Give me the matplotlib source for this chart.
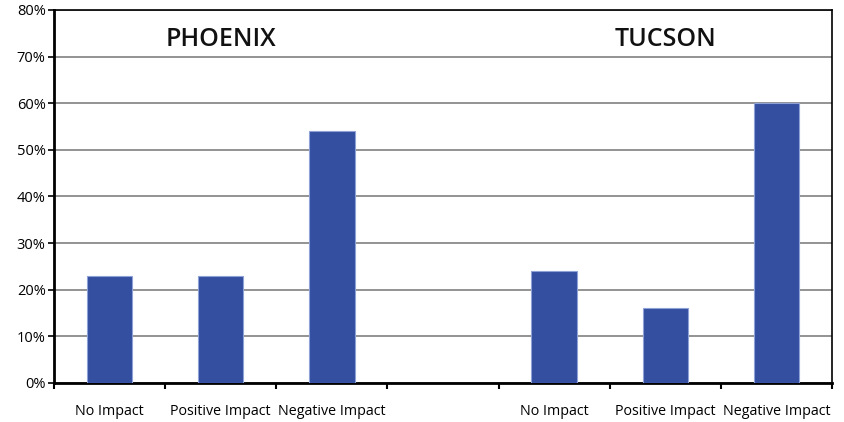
import matplotlib
matplotlib.use("Agg")
import matplotlib.pyplot as plt
import numpy as np

categories = ["No Impact", "Positive Impact", "Negative Impact", "",
              "No Impact", "Positive Impact", "Negative Impact"]
values = [23, 23, 54, 0, 24, 16, 60]
group_titles = ["PHOENIX", "TUCSON"]
group_title_pos = [1, 5]
yticks = [0, 10, 20, 30, 40, 50, 60, 70, 80]

plt.rcParams['font.family'] = ['Open Sans', 'DejaVu Sans']

fig = plt.figure(figsize=(8.45, 4.22), dpi=100)
ax = fig.add_axes([54/845, 1 - 383/422, (832-54)/845, (383-10)/422])

x = np.arange(len(categories))
mask = [v > 0 for v in values]
ax.bar(x[mask], np.array(values)[mask], width=0.41, color="#344EA0",
       edgecolor="#8FA2D8", linewidth=0.8, zorder=3)

ax.set_xlim(-0.5, len(categories) - 0.5)
ax.set_ylim(0, 80)
ax.set_yticks(yticks)
ax.set_yticklabels([f"{t}%" for t in yticks], fontsize=10.5)
ax.yaxis.grid(True, color="#808080", linewidth=1.2, zorder=0)
ax.tick_params(axis='y', direction='out', length=4, width=1.2, pad=2)

ax.set_xticks(np.arange(len(categories) + 1) - 0.5)
ax.set_xticklabels([])
ax.tick_params(axis='x', which='major', direction='out', length=4, width=1.5)
ax.set_xticks(x, minor=True)
ax.set_xticklabels(categories, minor=True, fontsize=10.3)
ax.tick_params(axis='x', which='minor', length=0, pad=15)

for s in ['left', 'bottom']:
    ax.spines[s].set_linewidth(2)
for s in ['top', 'right']:
    ax.spines[s].set_linewidth(1.2)

for t, p in zip(group_titles, group_title_pos):
    ax.text(p, 73.6, t, ha='center', va='center', fontsize=18,
            fontweight='semibold', color="#111111")

fig.savefig("out.png", dpi=100)
